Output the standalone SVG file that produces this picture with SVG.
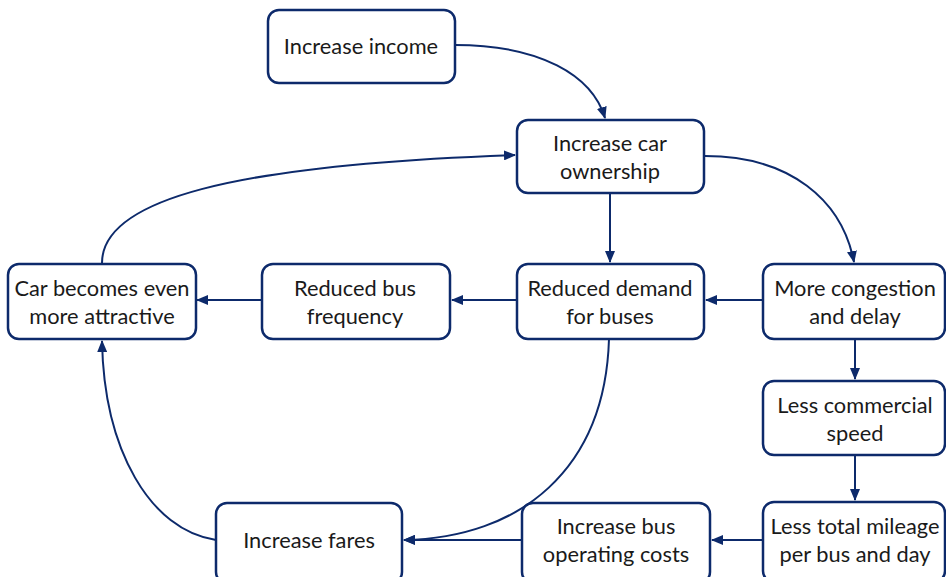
<svg xmlns="http://www.w3.org/2000/svg" width="946" height="577" viewBox="0 0 946 577">
  <defs>
    <marker id="arrow" viewBox="0 0 12 10" refX="11" refY="5" markerWidth="12" markerHeight="10" markerUnits="userSpaceOnUse" orient="auto">
      <path d="M0,0 L12,5 L0,10 Z" fill="#0d2a6b"/>
    </marker>
    <style>
      .box { fill: #ffffff; stroke: #0d2a6b; stroke-width: 2.5; }
      .lbl { font-family: Lato, "Open Sans", "Liberation Sans", sans-serif; font-size: 21.8px; fill: #1a1a1a; text-anchor: middle; dominant-baseline: central; }
      .edge { fill: none; stroke: #0d2a6b; stroke-width: 2; marker-end: url(#arrow); }
    </style>
  </defs>
  <rect width="946" height="577" fill="#ffffff"/>

  <g id="connectors">
    <path class="edge" d="M455,45 C540,45 592,75 605,118"/>
    <path class="edge" d="M102,263 C102,200 230,165 515,155"/>
    <path class="edge" d="M705,156 C790,156 842,200 854,262"/>
    <path class="edge" d="M610,193 L610,262"/>
    <path class="edge" d="M763,300 L706,300"/>
    <path class="edge" d="M516,300 L452,300"/>
    <path class="edge" d="M262,300 L197,300"/>
    <path class="edge" d="M609,339 C605,470 520,538 404,540"/>
    <path class="edge" d="M522,540 L404,540"/>
    <path class="edge" d="M763,540 L712,540"/>
    <path class="edge" d="M855,339 L855,379"/>
    <path class="edge" d="M855,455 L855,500"/>
    <path class="edge" d="M216,540 C150,530 104,450 102,341"/>
  </g>

  <g id="increase-income">
    <rect class="box" x="268" y="10" width="187" height="73" rx="11"/>
    <text class="lbl" x="361" y="45">Increase income</text>
  </g>
  <g id="increase-car-ownership">
    <rect class="box" x="517" y="120" width="187" height="73" rx="11"/>
    <text class="lbl" x="610" y="142">Increase car</text>
    <text class="lbl" x="610" y="170">ownership</text>
  </g>
  <g id="car-more-attractive">
    <rect class="box" x="8" y="264" width="188" height="75" rx="11"/>
    <text class="lbl" x="102" y="287">Car becomes even</text>
    <text class="lbl" x="102" y="315">more attractive</text>
  </g>
  <g id="reduced-bus-frequency">
    <rect class="box" x="262" y="264" width="188" height="75" rx="11"/>
    <text class="lbl" x="355" y="287">Reduced bus</text>
    <text class="lbl" x="355" y="315">frequency</text>
  </g>
  <g id="reduced-demand">
    <rect class="box" x="517" y="264" width="187" height="75" rx="11"/>
    <text class="lbl" x="610" y="287">Reduced demand</text>
    <text class="lbl" x="610" y="315">for buses</text>
  </g>
  <g id="more-congestion">
    <rect class="box" x="763" y="264" width="182" height="75" rx="11"/>
    <text class="lbl" x="855" y="287">More congestion</text>
    <text class="lbl" x="855" y="315">and delay</text>
  </g>
  <g id="less-commercial-speed">
    <rect class="box" x="763" y="381" width="182" height="74" rx="11"/>
    <text class="lbl" x="855" y="404">Less commercial</text>
    <text class="lbl" x="855" y="432">speed</text>
  </g>
  <g id="less-total-mileage">
    <rect class="box" x="763" y="502" width="182" height="80" rx="11"/>
    <text class="lbl" x="855" y="525">Less total mileage</text>
    <text class="lbl" x="855" y="553">per bus and day</text>
  </g>
  <g id="increase-bus-costs">
    <rect class="box" x="522" y="503" width="188" height="80" rx="11"/>
    <text class="lbl" x="616" y="525">Increase bus</text>
    <text class="lbl" x="616" y="553">operating costs</text>
  </g>
  <g id="increase-fares">
    <rect class="box" x="216" y="503" width="186" height="80" rx="11"/>
    <text class="lbl" x="309" y="539">Increase fares</text>
  </g>
</svg>
